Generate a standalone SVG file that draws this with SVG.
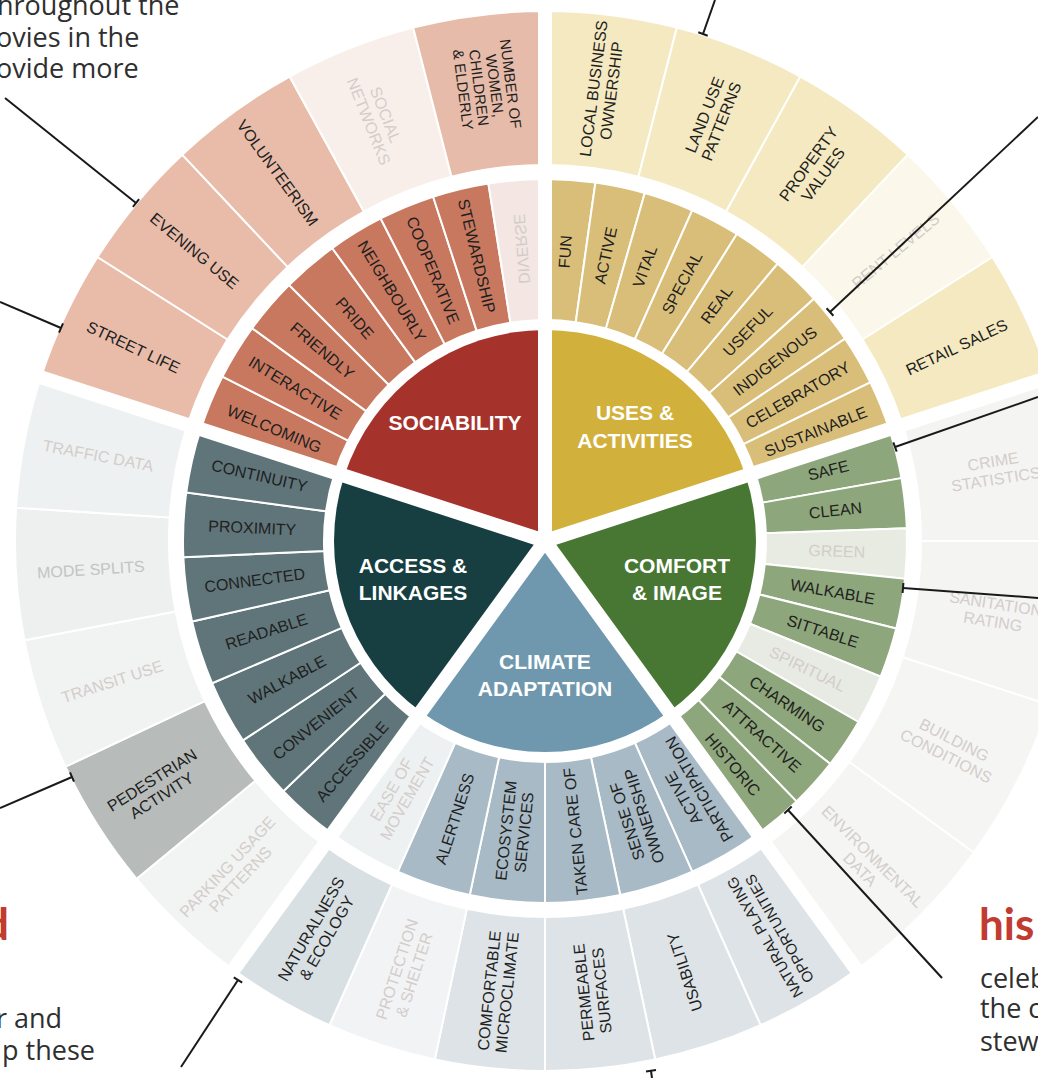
<svg xmlns="http://www.w3.org/2000/svg" width="1038" height="1078" viewBox="0 0 1038 1078">
<style>
.seg{stroke:#ffffff;stroke-width:2}
.t{font-family:"Liberation Sans",Arial,sans-serif;font-size:16px;fill:#1f1f1f;text-anchor:middle;dominant-baseline:central}
.s{font-size:15px}
.f{fill:#d3cdca}
.hub{font-family:"Liberation Sans",Arial,sans-serif;font-weight:bold;font-size:21px;fill:#ffffff;text-anchor:middle}
.body{font-family:"Open Sans",sans-serif;font-size:27px;fill:#2f2f2f}
.head{font-family:"Lato","Open Sans",sans-serif;font-weight:bold;font-size:44px;fill:#c23b30}
.gap{stroke:#ffffff;stroke-width:14}
.conn line{stroke:#1a1a1a;stroke-width:2}
</style>
<defs>
<path id="m8" d="M221,0 L362,0 A362,362 0 0 1 358.477,50.381 L218.849,30.757 A221,221 0 0 0 221,0 Z"/>
<path id="m9" d="M221,0 L362,0 A362,362 0 0 1 357.543,56.629 L218.279,34.572 A221,221 0 0 0 221,0 Z"/>
<path id="m10" d="M221,0 L362,0 A362,362 0 0 1 356.183,64.639 L217.449,39.462 A221,221 0 0 0 221,0 Z"/>
<path id="m12" d="M221,0 L362,0 A362,362 0 0 1 354.090,75.264 L216.171,45.949 A221,221 0 0 0 221,0 Z"/>
<path id="o12" d="M376,0 L530,0 A530,530 0 0 1 518.418,110.193 L367.784,78.175 A376,376 0 0 0 376,0 Z"/>
<path id="o14" d="M376,0 L530,0 A530,530 0 0 1 513.349,131.806 L364.187,93.507 A376,376 0 0 0 376,0 Z"/>
<path id="o18" d="M376,0 L530,0 A530,530 0 0 1 504.060,163.779 L357.597,116.190 A376,376 0 0 0 376,0 Z"/>
</defs>
<rect width="1038" height="1078" fill="#ffffff"/>

<g transform="translate(545,541)">
<!-- SOCIABILITY qualities -->
<g id="sociability-qualities">
<g id="welcoming"><use href="#m9" class="seg" fill="#c8785f" transform="rotate(198)"/><text class="t" transform="rotate(202.5) translate(293,0) rotate(180)">WELCOMING</text></g>
<g id="interactive"><use href="#m9" class="seg" fill="#c8785f" transform="rotate(207)"/><text class="t" transform="rotate(211.5) translate(293,0) rotate(180)">INTERACTIVE</text></g>
<g id="friendly"><use href="#m9" class="seg" fill="#c8785f" transform="rotate(216)"/><text class="t" transform="rotate(220.5) translate(293,0) rotate(180)">FRIENDLY</text></g>
<g id="pride"><use href="#m9" class="seg" fill="#c8785f" transform="rotate(225)"/><text class="t" transform="rotate(229.5) translate(293,0) rotate(180)">PRIDE</text></g>
<g id="neighbourly"><use href="#m9" class="seg" fill="#c8785f" transform="rotate(234)"/><text class="t" transform="rotate(238.5) translate(293,0) rotate(180)">NEIGHBOURLY</text></g>
<g id="cooperative"><use href="#m9" class="seg" fill="#c8785f" transform="rotate(243)"/><text class="t" transform="rotate(247.5) translate(293,0) rotate(180)">COOPERATIVE</text></g>
<g id="stewardship"><use href="#m9" class="seg" fill="#c8785f" transform="rotate(252)"/><text class="t" transform="rotate(256.5) translate(293,0) rotate(180)">STEWARDSHIP</text></g>
<g id="diverse"><use href="#m9" class="seg" fill="#f3e6e3" transform="rotate(261)"/><text class="t f" transform="rotate(265.5) translate(293,0) rotate(180) scale(-1,1)">DIVERSE</text></g>
</g>
<!-- SOCIABILITY measures -->
<g id="sociability-measures">
<g id="street-life"><use href="#o14" class="seg" fill="#e8bca9" transform="rotate(198)"/><text class="t" transform="rotate(205.2) translate(455,0) rotate(180)">STREET LIFE</text></g>
<g id="evening-use"><use href="#o14" class="seg" fill="#e8bca9" transform="rotate(212.4)"/><text class="t" transform="rotate(219.6) translate(455,0) rotate(180)">EVENING USE</text></g>
<g id="volunteerism"><use href="#o14" class="seg" fill="#e8bca9" transform="rotate(226.8)"/><text class="t" transform="rotate(234) translate(455,0) rotate(180)">VOLUNTEERISM</text></g>
<g id="social-networks"><use href="#o14" class="seg" fill="#f8efeb" transform="rotate(241.2)"/><text class="t f" transform="rotate(248.4) translate(455,0) rotate(180)"><tspan x="0" y="-9">SOCIAL</tspan><tspan x="0" y="9">NETWORKS</tspan></text></g>
<g id="number-of-women"><use href="#o14" class="seg" fill="#e6bba9" transform="rotate(255.6)"/><text class="t s" transform="rotate(262.8) translate(458,0) rotate(180)"><tspan x="0" y="-24">NUMBER OF</tspan><tspan x="0" y="-8">WOMEN,</tspan><tspan x="0" y="8">CHILDREN</tspan><tspan x="0" y="24">&amp; ELDERLY</tspan></text></g>
</g>

<!-- USES qualities -->
<g id="uses-qualities">
<g id="fun"><use href="#m8" class="seg" fill="#d9be79" transform="rotate(270)"/><text class="t" transform="rotate(274) translate(290,0)">FUN</text></g>
<g id="active"><use href="#m8" class="seg" fill="#d9be79" transform="rotate(278)"/><text class="t" transform="rotate(282) translate(292,0)">ACTIVE</text></g>
<g id="vital"><use href="#m8" class="seg" fill="#d9be79" transform="rotate(286)"/><text class="t" transform="rotate(290) translate(292,0)">VITAL</text></g>
<g id="special"><use href="#m8" class="seg" fill="#d9be79" transform="rotate(294)"/><text class="t" transform="rotate(298) translate(292,0)">SPECIAL</text></g>
<g id="real"><use href="#m8" class="seg" fill="#d9be79" transform="rotate(302)"/><text class="t" transform="rotate(306) translate(292,0)">REAL</text></g>
<g id="useful"><use href="#m8" class="seg" fill="#d9be79" transform="rotate(310)"/><text class="t" transform="rotate(314) translate(292,0)">USEFUL</text></g>
<g id="indigenous"><use href="#m8" class="seg" fill="#d9be79" transform="rotate(318)"/><text class="t" transform="rotate(322) translate(292,0)">INDIGENOUS</text></g>
<g id="celebratory"><use href="#m8" class="seg" fill="#d9be79" transform="rotate(326)"/><text class="t" transform="rotate(330) translate(292,0)">CELEBRATORY</text></g>
<g id="sustainable"><use href="#m8" class="seg" fill="#d9be79" transform="rotate(334)"/><text class="t" transform="rotate(338) translate(292,0)">SUSTAINABLE</text></g>
</g>
<!-- USES measures -->
<g id="uses-measures">
<g id="local-business"><use href="#o14" class="seg" fill="#f4e9c0" transform="rotate(270)"/><text class="t" transform="rotate(277.2) translate(455,0)"><tspan x="0" y="-9">LOCAL BUSINESS</tspan><tspan x="0" y="9">OWNERSHIP</tspan></text></g>
<g id="land-use"><use href="#o14" class="seg" fill="#f4e9c0" transform="rotate(284.4)"/><text class="t" transform="rotate(291.6) translate(455,0)"><tspan x="0" y="-9">LAND USE</tspan><tspan x="0" y="9">PATTERNS</tspan></text></g>
<g id="property-values"><use href="#o14" class="seg" fill="#f4e9c0" transform="rotate(298.8)"/><text class="t" transform="rotate(306) translate(460,0)"><tspan x="0" y="-9">PROPERTY</tspan><tspan x="0" y="9">VALUES</tspan></text></g>
<g id="rent-levels"><use href="#o14" class="seg" fill="#fbf7ea" transform="rotate(313.2)"/><text class="t f" transform="rotate(320.4) translate(455,0)">RENT LEVELS</text></g>
<g id="retail-sales"><use href="#o14" class="seg" fill="#f4e9c0" transform="rotate(327.6)"/><text class="t" transform="rotate(334.8) translate(455,0)">RETAIL SALES</text></g>
</g>

<!-- COMFORT qualities -->
<g id="comfort-qualities">
<g id="safe"><use href="#m8" class="seg" fill="#8ea67b" transform="rotate(342)"/><text class="t" transform="rotate(346) translate(292,0)">SAFE</text></g>
<g id="clean"><use href="#m8" class="seg" fill="#8ea67b" transform="rotate(350)"/><text class="t" transform="rotate(354) translate(292,0)">CLEAN</text></g>
<g id="green"><use href="#m8" class="seg" fill="#e7ebe2" transform="rotate(358)"/><text class="t f" transform="rotate(2) translate(292,0)">GREEN</text></g>
<g id="walkable-c"><use href="#m8" class="seg" fill="#8ea67b" transform="rotate(6)"/><text class="t" transform="rotate(10) translate(292,0)">WALKABLE</text></g>
<g id="sittable"><use href="#m8" class="seg" fill="#8ea67b" transform="rotate(14)"/><text class="t" transform="rotate(18) translate(292,0)">SITTABLE</text></g>
<g id="spiritual"><use href="#m8" class="seg" fill="#e8ebe3" transform="rotate(22)"/><text class="t f" transform="rotate(26) translate(292,0)">SPIRITUAL</text></g>
<g id="charming"><use href="#m8" class="seg" fill="#8ea67b" transform="rotate(30)"/><text class="t" transform="rotate(34) translate(292,0)">CHARMING</text></g>
<g id="attractive"><use href="#m8" class="seg" fill="#8ea67b" transform="rotate(38)"/><text class="t" transform="rotate(42) translate(292,0)">ATTRACTIVE</text></g>
<g id="historic"><use href="#m8" class="seg" fill="#8ea67b" transform="rotate(46)"/><text class="t" transform="rotate(50) translate(292,0)">HISTORIC</text></g>
</g>
<!-- COMFORT measures -->
<g id="comfort-measures">
<g id="crime-statistics"><use href="#o18" class="seg" fill="#f4f4f2" transform="rotate(342)"/><text class="t f" transform="rotate(351) translate(455,0)"><tspan x="0" y="-9">CRIME</tspan><tspan x="0" y="9">STATISTICS</tspan></text></g>
<g id="sanitation-rating"><use href="#o18" class="seg" fill="#f4f4f2" transform="rotate(0)"/><text class="t f" transform="rotate(9) translate(455,0)"><tspan x="0" y="-9">SANITATION</tspan><tspan x="0" y="9">RATING</tspan></text></g>
<g id="building-conditions"><use href="#o18" class="seg" fill="#f5f5f3" transform="rotate(18)"/><text class="t f" transform="rotate(27) translate(455,0)"><tspan x="0" y="-9">BUILDING</tspan><tspan x="0" y="9">CONDITIONS</tspan></text></g>
<g id="environmental-data"><use href="#o18" class="seg" fill="#f5f5f3" transform="rotate(36)"/><text class="t f" transform="rotate(45) translate(455,0)"><tspan x="0" y="-9">ENVIRONMENTAL</tspan><tspan x="0" y="9">DATA</tspan></text></g>
</g>

<!-- CLIMATE qualities -->
<g id="climate-qualities">
<g id="active-participation"><use href="#m12" class="seg" fill="#a8bac5" transform="rotate(54)"/><text class="t" transform="rotate(60) translate(292,0) rotate(180)"><tspan x="0" y="-9">ACTIVE</tspan><tspan x="0" y="9">PARTICIPATION</tspan></text></g>
<g id="sense-of-ownership"><use href="#m12" class="seg" fill="#a8bac5" transform="rotate(66)"/><text class="t" transform="rotate(72) translate(292,0) rotate(180)"><tspan x="0" y="-9">SENSE OF</tspan><tspan x="0" y="9">OWNERSHIP</tspan></text></g>
<g id="taken-care-of"><use href="#m12" class="seg" fill="#a8bac5" transform="rotate(78)"/><text class="t" transform="rotate(84) translate(292,0) rotate(180)">TAKEN CARE OF</text></g>
<g id="ecosystem-services"><use href="#m12" class="seg" fill="#a8bac5" transform="rotate(90)"/><text class="t" transform="rotate(96) translate(292,0) rotate(180)"><tspan x="0" y="-9">ECOSYSTEM</tspan><tspan x="0" y="9">SERVICES</tspan></text></g>
<g id="alertness"><use href="#m12" class="seg" fill="#a8bac5" transform="rotate(102)"/><text class="t" transform="rotate(108) translate(292,0) rotate(180)">ALERTNESS</text></g>
<g id="ease-of-movement"><use href="#m12" class="seg" fill="#eef1f2" transform="rotate(114)"/><text class="t f" transform="rotate(120) translate(292,0) rotate(180)"><tspan x="0" y="-9">EASE OF</tspan><tspan x="0" y="9">MOVEMENT</tspan></text></g>
</g>
<!-- CLIMATE measures -->
<g id="climate-measures">
<g id="natural-playing"><use href="#o12" class="seg" fill="#dde3e6" transform="rotate(54)"/><text class="t s" transform="rotate(60) translate(453,0) rotate(180)"><tspan x="0" y="-8.5">NATURAL PLAYING</tspan><tspan x="0" y="8.5">OPPORTUNITIES</tspan></text></g>
<g id="usability"><use href="#o12" class="seg" fill="#dde3e6" transform="rotate(66)"/><text class="t" transform="rotate(72) translate(453,0) rotate(180)">USABILITY</text></g>
<g id="permeable-surfaces"><use href="#o12" class="seg" fill="#dde3e6" transform="rotate(78)"/><text class="t" transform="rotate(84) translate(453,0) rotate(180)"><tspan x="0" y="-9">PERMEABLE</tspan><tspan x="0" y="9">SURFACES</tspan></text></g>
<g id="comfortable-microclimate"><use href="#o12" class="seg" fill="#dde3e6" transform="rotate(90)"/><text class="t" transform="rotate(96) translate(453,0) rotate(180)"><tspan x="0" y="-9">COMFORTABLE</tspan><tspan x="0" y="9">MICROCLIMATE</tspan></text></g>
<g id="protection-shelter"><use href="#o12" class="seg" fill="#f1f3f4" transform="rotate(102)"/><text class="t f" transform="rotate(108) translate(453,0) rotate(180)"><tspan x="0" y="-9">PROTECTION</tspan><tspan x="0" y="9">&amp; SHELTER</tspan></text></g>
<g id="naturalness-ecology"><use href="#o12" class="seg" fill="#d9e0e3" transform="rotate(114)"/><text class="t" transform="rotate(120) translate(453,0) rotate(180)"><tspan x="0" y="-9">NATURALNESS</tspan><tspan x="0" y="9">&amp; ECOLOGY</tspan></text></g>
</g>

<!-- ACCESS qualities -->
<g id="access-qualities">
<g id="accessible"><use href="#m10" class="seg" fill="#5f757a" transform="rotate(126)"/><text class="t" transform="rotate(131.1429) translate(293,0) rotate(180)">ACCESSIBLE</text></g>
<g id="convenient"><use href="#m10" class="seg" fill="#5f757a" transform="rotate(136.2857)"/><text class="t" transform="rotate(141.4286) translate(293,0) rotate(180)">CONVENIENT</text></g>
<g id="walkable-a"><use href="#m10" class="seg" fill="#5f757a" transform="rotate(146.5714)"/><text class="t" transform="rotate(151.7143) translate(293,0) rotate(180)">WALKABLE</text></g>
<g id="readable"><use href="#m10" class="seg" fill="#5f757a" transform="rotate(156.8571)"/><text class="t" transform="rotate(162) translate(293,0) rotate(180)">READABLE</text></g>
<g id="connected"><use href="#m10" class="seg" fill="#5f757a" transform="rotate(167.1429)"/><text class="t" transform="rotate(172.2857) translate(293,0) rotate(180)">CONNECTED</text></g>
<g id="proximity"><use href="#m10" class="seg" fill="#5f757a" transform="rotate(177.4286)"/><text class="t" transform="rotate(182.5714) translate(293,0) rotate(180)">PROXIMITY</text></g>
<g id="continuity"><use href="#m10" class="seg" fill="#5f757a" transform="rotate(187.7143)"/><text class="t" transform="rotate(192.8571) translate(293,0) rotate(180)">CONTINUITY</text></g>
</g>
<!-- ACCESS measures -->
<g id="access-measures">
<g id="parking-usage"><use href="#o14" class="seg" fill="#f2f3f3" transform="rotate(126)"/><text class="t f" transform="rotate(133.2) translate(455,0) rotate(180)"><tspan x="0" y="-9">PARKING USAGE</tspan><tspan x="0" y="9">PATTERNS</tspan></text></g>
<g id="pedestrian-activity"><use href="#o14" class="seg" fill="#b7bbb9" transform="rotate(140.4)"/><text class="t" transform="rotate(147.6) translate(460,0) rotate(180)"><tspan x="0" y="-9">PEDESTRIAN</tspan><tspan x="0" y="9">ACTIVITY</tspan></text></g>
<g id="transit-use"><use href="#o14" class="seg" fill="#f1f2f2" transform="rotate(154.8)"/><text class="t f" transform="rotate(162) translate(455,0) rotate(180)">TRANSIT USE</text></g>
<g id="mode-splits"><use href="#o14" class="seg" fill="#eeefef" transform="rotate(169.2)"/><text class="t" style="fill:#c2c4c4" transform="rotate(176.4) translate(455,0) rotate(180)">MODE SPLITS</text></g>
<g id="traffic-data"><use href="#o14" class="seg" fill="#eef1f1" transform="rotate(183.6)"/><text class="t f" transform="rotate(190.8) translate(455,0) rotate(180)">TRAFFIC DATA</text></g>
</g>

<!-- HUB wedges -->
<g id="hub">
<g id="sociability"><path d="M0,0 L-200.673,-65.203 A211,211 0 0 1 0,-211 Z" fill="#a6322c"/></g>
<g id="uses-activities"><path d="M0,0 L0,-211 A211,211 0 0 1 200.673,-65.203 Z" fill="#d2b03c"/></g>
<g id="comfort-image"><path d="M0,0 L200.673,-65.203 A211,211 0 0 1 124.023,170.703 Z" fill="#487633"/></g>
<g id="climate-adaptation"><path d="M0,0 L124.023,170.703 A211,211 0 0 1 -124.023,170.703 Z" fill="#6f98ae"/></g>
<g id="access-linkages"><path d="M0,0 L-124.023,170.703 A211,211 0 0 1 -200.673,-65.203 Z" fill="#173f41"/></g>
</g>

<!-- quadrant gaps -->
<g id="gaps">
<line class="gap" x1="0" y1="0" x2="545" y2="0" transform="rotate(270)"/>
<line class="gap" x1="0" y1="0" x2="545" y2="0" transform="rotate(342)"/>
<line class="gap" x1="0" y1="0" x2="545" y2="0" transform="rotate(54)"/>
<line class="gap" x1="0" y1="0" x2="545" y2="0" transform="rotate(126)"/>
<line class="gap" x1="0" y1="0" x2="545" y2="0" transform="rotate(198)"/>
</g>
</g>

<!-- hub labels -->
<g id="hub-labels">
<text class="hub" x="455" y="430">SOCIABILITY</text>
<text class="hub" x="635" y="420">USES &amp;</text>
<text class="hub" x="635" y="448">ACTIVITIES</text>
<text class="hub" x="677" y="573">COMFORT</text>
<text class="hub" x="677" y="600">&amp; IMAGE</text>
<text class="hub" x="545" y="669">CLIMATE</text>
<text class="hub" x="545" y="696">ADAPTATION</text>
<text class="hub" x="413" y="573">ACCESS &amp;</text>
<text class="hub" x="413" y="600">LINKAGES</text>
</g>

<!-- connectors -->
<g id="connectors" class="conn">
<line x1="5" y1="98" x2="136" y2="203"/><line x1="132.9" y1="206.9" x2="139.1" y2="199.1"/>
<line x1="0" y1="302" x2="61" y2="328"/><line x1="59" y1="332.6" x2="63" y2="323.4"/>
<line x1="715" y1="0" x2="703" y2="34"/><line x1="698.3" y1="32.3" x2="707.7" y2="35.7"/>
<line x1="1038" y1="117" x2="830" y2="312"/><line x1="826.6" y1="308.3" x2="833.4" y2="315.7"/>
<line x1="1038" y1="397" x2="895" y2="447"/><line x1="893.3" y1="442.3" x2="896.7" y2="451.7"/>
<line x1="1038" y1="598" x2="903" y2="588"/><line x1="902.6" y1="593" x2="903.4" y2="583"/>
<line x1="942" y1="978" x2="788" y2="810"/><line x1="784.3" y1="813.4" x2="791.7" y2="806.6"/>
<line x1="652" y1="1078" x2="651" y2="1071"/><line x1="646" y1="1071.5" x2="656" y2="1070"/>
<line x1="181" y1="1067" x2="238" y2="980"/><line x1="233.8" y1="977.3" x2="242.2" y2="982.7"/>
<line x1="0" y1="808" x2="72" y2="777"/><line x1="70" y1="772.4" x2="74" y2="781.6"/>
</g>

<!-- page text fragments -->
<g id="page-text">
<text class="body" x="-3" y="15">hroughout the</text>
<text class="body" x="-4" y="47">ovies in the</text>
<text class="body" x="-4" y="78">ovide more</text>
<text class="head" x="-16" y="940">d</text>
<text class="body" x="-4" y="1028">r and</text>
<text class="body" x="2" y="1060">p these</text>
<text class="head" x="979" y="940">his</text>
<text class="body" x="980" y="988">celeb</text>
<text class="body" x="980" y="1018">the c</text>
<text class="body" x="980" y="1051">stew</text>
</g>
</svg>
